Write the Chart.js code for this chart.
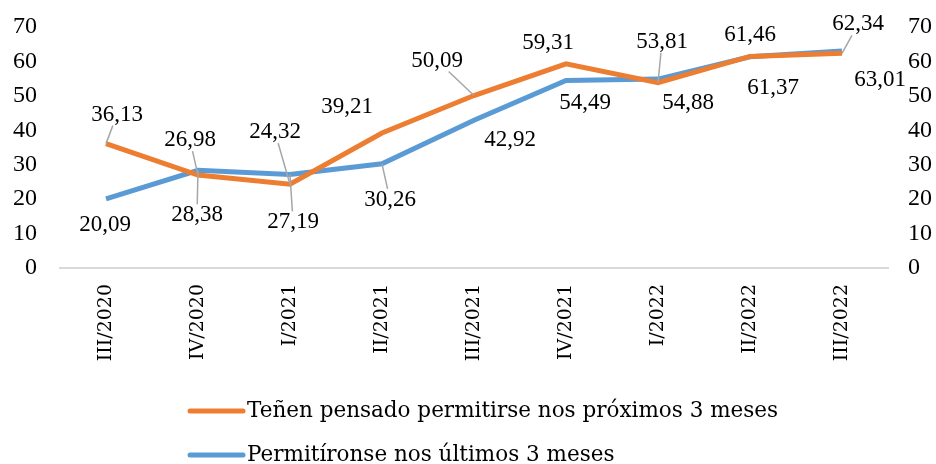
<!DOCTYPE html>
<html>
<head>
<meta charset="utf-8">
<script src="https://cdn.jsdelivr.net/npm/chart.js@4"></script>
<style>
html,body{margin:0;padding:0;background:#fff;}
#wrap{width:936px;height:464px;}
</style>
</head>
<body>
<div id="wrap"><canvas id="c" width="936" height="464"></canvas></div>
<script>
const categories = ["III/2020","IV/2020","I/2021","II/2021","III/2021","IV/2021","I/2022","II/2022","III/2022"];
const seriesPlannedLabel = "Teñen pensado permitirse nos próximos 3 meses";
const seriesPlanned = [36.13, 26.98, 24.32, 39.21, 50.09, 59.31, 53.81, 61.46, 62.34];
const seriesDoneLabel = "Permitíronse nos últimos 3 meses";
const seriesDone = [20.09, 28.38, 27.19, 30.26, 42.92, 54.49, 54.88, 61.37, 63.01];
const yTicks = [0, 10, 20, 30, 40, 50, 60, 70];

// label placement (offsets in px from the point) and leader-line flags
const labelLayout = [
  { dx:[11,-8,-15,-35,-37,-18,4,0,16], dy:[-29,-35,-52,-26,-35,-21,-41,-21,-29], leader:[1,1,1,0,1,0,1,0,1] },
  { dx:[-1,-1,3,8,36,19,30,23,38], dy:[26,45,48,36,20,23,24,31,29], leader:[0,1,1,1,0,0,0,0,0] }
];

const FONT = '23px "Liberation Serif", "Times New Roman", serif';
const LEGEND_FONT = '21.5px "DejaVu Serif", serif';
const fmt = v => v.toFixed(2).replace('.', ',');

const labelPlugin = {
  id: 'valueLabels',
  afterDatasetsDraw(chart) {
    const ctx = chart.ctx;
    ctx.save();
    ctx.font = FONT;
    ctx.textAlign = 'center';
    ctx.textBaseline = 'middle';
    chart.data.datasets.forEach((ds, di) => {
      const meta = chart.getDatasetMeta(di);
      const lay = labelLayout[di];
      meta.data.forEach((pt, i) => {
        const txt = fmt(ds.data[i]);
        const cx = pt.x + lay.dx[i], cy = pt.y + lay.dy[i];
        const w = ctx.measureText(txt).width, h = 18;
        if (lay.leader[i]) {
          const hw = w/2 + 2, hh = h/2 + 2;
          const vx = pt.x - cx, vy = pt.y - cy;
          let t = Math.min(vx !== 0 ? hw/Math.abs(vx) : Infinity, vy !== 0 ? hh/Math.abs(vy) : Infinity);
          const ex = cx + vx*t, ey = cy + vy*t;
          ctx.strokeStyle = '#A6A6A6';
          ctx.lineWidth = 1.5;
          ctx.beginPath();
          ctx.moveTo(pt.x, pt.y);
          ctx.lineTo(ex, ey);
          ctx.stroke();
        }
        ctx.fillStyle = '#000';
        ctx.fillText(txt, cx, cy);
      });
    });
    ctx.restore();
  }
};

const legendPlugin = {
  id: 'customLegend',
  afterDraw(chart) {
    const ctx = chart.ctx;
    ctx.save();
    ctx.font = LEGEND_FONT;
    ctx.textBaseline = 'middle';
    ctx.textAlign = 'left';
    const rows = [411, 455];
    chart.data.datasets.forEach((ds, di) => {
      const y = rows[di];
      ctx.strokeStyle = ds.borderColor;
      ctx.lineWidth = 5;
      ctx.lineCap = 'round';
      ctx.beginPath();
      ctx.moveTo(190, y);
      ctx.lineTo(243, y);
      ctx.stroke();
      ctx.fillStyle = '#000';
      ctx.fillText(ds.label, 247, y);
    });
    ctx.restore();
  }
};

function noPad(s) { s.paddingTop = 0; s.paddingBottom = 0; }

new Chart(document.getElementById('c'), {
  type: 'line',
  data: {
    labels: categories,
    datasets: [
      { label: seriesPlannedLabel, data: seriesPlanned, borderColor: '#ED7D31', backgroundColor: '#ED7D31', borderWidth: 5, pointRadius: 0, tension: 0, yAxisID: 'y' },
      { label: seriesDoneLabel, data: seriesDone, borderColor: '#5B9BD5', backgroundColor: '#5B9BD5', borderWidth: 5, pointRadius: 0, tension: 0, yAxisID: 'y' }
    ]
  },
  options: {
    responsive: false,
    animation: false,
    events: [],
    layout: { padding: { top: 27, bottom: 76, left: 0, right: 0 } },
    plugins: { legend: { display: false }, tooltip: { enabled: false } },
    scales: {
      x: {
        offset: true,
        grid: { display: false, drawTicks: false },
        border: { display: true, color: '#D9D9D9', width: 2 },
        ticks: { color: '#000', font: { family: '"DejaVu Serif", serif', size: 19 }, minRotation: 90, maxRotation: 90, padding: 16, autoSkip: false },
        afterFit(s) { s.height = 120; s.paddingLeft = 0; s.paddingRight = 0; }
      },
      y: {
        position: 'left',
        min: yTicks[0], max: yTicks[yTicks.length-1],
        afterBuildTicks(s) { s.ticks = yTicks.map(v => ({ value: v })); },
        grid: { display: false, drawTicks: false },
        border: { display: false },
        ticks: { color: '#000', font: { family: '"Liberation Serif", serif', size: 24 }, padding: 23 },
        afterFit(s) { s.width = 60; noPad(s); }
      },
      y2: {
        position: 'right',
        min: yTicks[0], max: yTicks[yTicks.length-1],
        afterBuildTicks(s) { s.ticks = yTicks.map(v => ({ value: v })); },
        grid: { display: false, drawTicks: false },
        border: { display: false },
        ticks: { color: '#000', font: { family: '"Liberation Serif", serif', size: 24 }, padding: 20 },
        afterFit(s) { s.width = 48; noPad(s); }
      }
    }
  },
  plugins: [labelPlugin, legendPlugin]
});
</script>
</body>
</html>
